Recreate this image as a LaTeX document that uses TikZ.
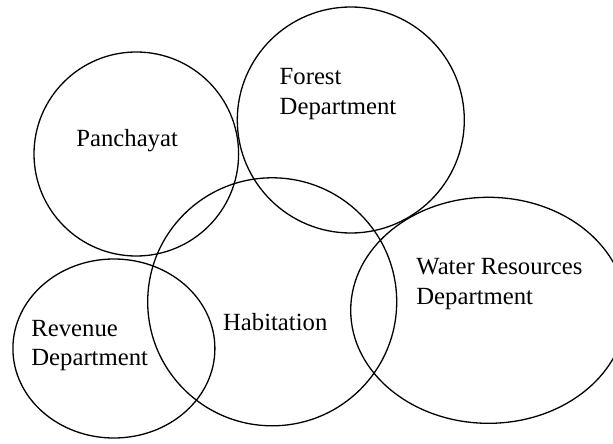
\documentclass[tikz,border=0pt]{standalone}
\usepackage{fontspec}
\setmainfont{Liberation Serif}
\usetikzlibrary{shapes.geometric}
\begin{document}
\begin{tikzpicture}[x=0.5pt,y=-0.5pt,
  venn/.style={draw,black,line width=0.65pt,ellipse,inner sep=0pt},
  lbl/.style={anchor=base west,inner sep=0pt,align=left,font=\fontsize{12.35}{14.75}\selectfont}]

\useasboundingbox (0,0) rectangle (613,443);

\node [venn,minimum width=102.3pt,minimum height=102pt] at (136.3,154) (pan) {};
\node [venn,minimum width=113.5pt,minimum height=113pt] at (350.8,120) (forest) {};
\node [venn,minimum width=124.5pt,minimum height=124pt] at (272.2,301.8) (hab) {};
\node [venn,minimum width=101pt,minimum height=89.5pt] at (113.9,348.5) (rev) {};
\node [venn,minimum width=137.8pt,minimum height=113pt] at (488.5,310.3) (water) {};

\node [lbl] at (76,147) (tpan) {Panchayat};
\node [lbl] at (279.3,114.3) (tforest) {Forest\\Department};
\node [lbl] at (222.7,330) (thab) {Habitation};
\node [lbl] at (31,365.7) (trev) {Revenue\\Department};
\node [lbl] at (416,304) (twater) {Water Resources\\Department};

\end{tikzpicture}
\end{document}
